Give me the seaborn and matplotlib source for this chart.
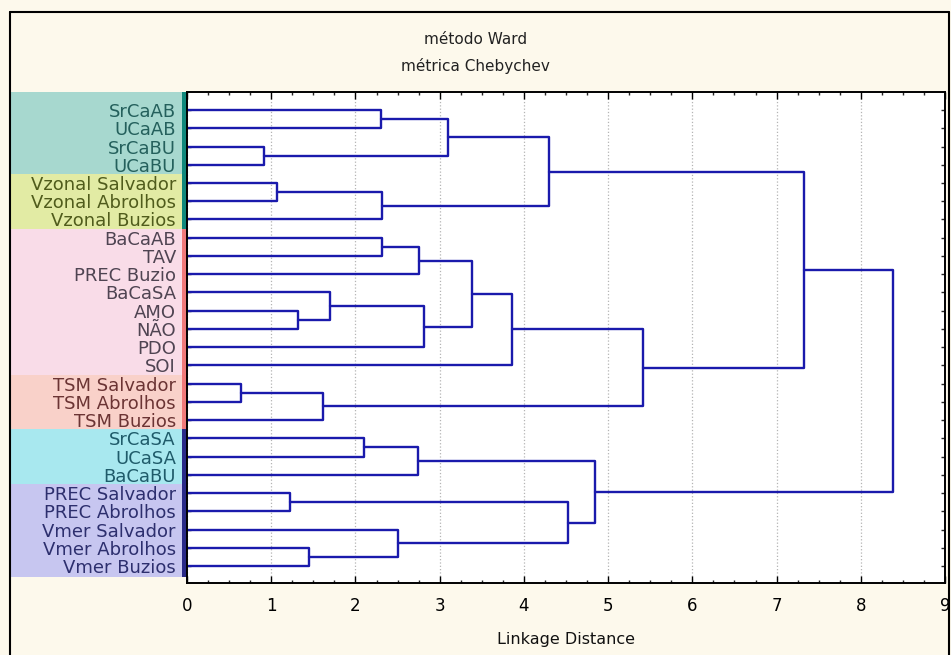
import numpy as np
import pandas as pd
import matplotlib
matplotlib.use('Agg')
import matplotlib.pyplot as plt
import matplotlib.transforms as mtransforms
from matplotlib.patches import Rectangle
from matplotlib.lines import Line2D
from matplotlib.ticker import MultipleLocator
import seaborn as sns

# leaves, top to bottom
labels = ['SrCaAB', 'UCaAB', 'SrCaBU', 'UCaBU',
          'Vzonal Salvador', 'Vzonal Abrolhos', 'Vzonal Buzios',
          'BaCaAB', 'TAV', 'PREC Buzio', 'BaCaSA', 'AMO', 'NÃO', 'PDO', 'SOI',
          'TSM Salvador', 'TSM Abrolhos', 'TSM Buzios',
          'SrCaSA', 'UCaSA', 'BaCaBU',
          'PREC Salvador', 'PREC Abrolhos', 'Vmer Salvador', 'Vmer Abrolhos', 'Vmer Buzios']

# merges (cluster ids: leaves 0..25, new clusters 26..50)
merge_left = [15, 2, 4, 21, 11, 24, 26, 10, 18, 0, 28, 7, 23, 34, 37, 33, 35, 40, 43, 42, 29, 39, 44, 45, 49]
merge_right = [16, 3, 5, 22, 12, 25, 17, 30, 19, 1, 6, 8, 31, 20, 9, 13, 27, 41, 14, 36, 38, 46, 32, 48, 47]
merge_height = [0.64, 0.92, 1.07, 1.22, 1.32, 1.45, 1.62, 1.70, 2.10, 2.30, 2.32, 2.32, 2.50,
                2.74, 2.76, 2.81, 3.10, 3.38, 3.86, 4.30, 4.52, 4.85, 5.42, 7.33, 8.38]

x_ticks = [0, 1, 2, 3, 4, 5, 6, 7, 8, 9]

# label groups (first row, last row)
group_first = [0, 4, 7, 15, 18, 21]
group_last = [3, 6, 14, 17, 20, 25]
band_colors = ['#a7d8cf', '#e2eba4', '#f9dce8', '#f9d1c9', '#a8e8ef', '#c7c6f0']
text_colors = ['#24605c', '#505c1c', '#4f4452', '#6b3434', '#1f5b6a', '#2d2f6e']
strip_colors = ['#10887c', '#10887c', '#f07a7a', '#f07a7a', '#2a2a88', '#2a2a88']

# build the dendrogram segments
pos = {i: float(i) for i in range(len(labels))}
hgt = {i: 0.0 for i in range(len(labels))}
rows = []
for k, (a, b, h) in enumerate(zip(merge_left, merge_right, merge_height)):
    cid = len(labels) + k
    pts = [(hgt[a], pos[a]), (h, pos[a]), (h, pos[b]), (hgt[b], pos[b])]
    for j, (x, y) in enumerate(pts):
        rows.append({'x': x, 'y': y, 'seg': k, 'order': j})
    pos[cid] = (pos[a] + pos[b]) / 2
    hgt[cid] = h
df = pd.DataFrame(rows)

sns.set_style('white')
plt.rcParams['font.family'] = ['DejaVu Sans']

fig = plt.figure(figsize=(9.51, 6.55), dpi=100, facecolor='#fdf9ec')
ax = fig.add_axes([187 / 951, 1 - 583 / 655, 758 / 951, 491 / 655])
ax.set_facecolor('white')

sns.lineplot(data=df, x='x', y='y', units='seg', estimator=None, sort=False,
             color='#1a1aac', linewidth=1.7, ax=ax, legend=False)

ax.set_xlim(0, 9)
ax.set_ylim(25.93, -0.99)
ax.set_xticks(x_ticks)
ax.set_xticklabels([str(v) for v in x_ticks])
ax.xaxis.set_minor_locator(MultipleLocator(0.25))
ax.set_yticks(range(len(labels)))
ax.set_yticklabels(labels)
ax.grid(axis='x', which='major', linestyle=':', color='#b4b4b4', linewidth=0.9)
ax.set_axisbelow(True)

for s in ax.spines.values():
    s.set_visible(True)
    s.set_color('black')
    s.set_linewidth(1.4)

ax.tick_params(axis='x', which='major', direction='in', top=True, bottom=True,
               length=5, width=1, labelsize=12, pad=10, colors='black')
ax.tick_params(axis='x', which='minor', direction='in', top=True, bottom=True,
               length=2.5, width=1)
ax.tick_params(axis='y', which='major', direction='in', left=True, right=True,
               length=3, width=1, labelsize=13, pad=8)

ax.set_xlabel('Linkage Distance', fontsize=11.5, labelpad=12, color='#111111')
ax.set_ylabel('')

# coloured bands behind the labels
trans = mtransforms.blended_transform_factory(ax.transAxes, ax.transData)
x0 = (10 - 187) / 758
xs = -5 / 758
for g, (f, l) in enumerate(zip(group_first, group_last)):
    top = f - 0.5 if f > 0 else -0.99
    bot = l + 0.5 if l < len(labels) - 1 else 25.6
    ax.add_patch(Rectangle((x0, top), -x0, bot - top, transform=trans,
                           facecolor=band_colors[g], edgecolor='none', clip_on=False, zorder=-5))
    ax.add_patch(Rectangle((xs, top), -xs, bot - top, transform=trans,
                           facecolor=strip_colors[g], edgecolor='none', clip_on=False, zorder=-4))
    for r in range(f, l + 1):
        ax.get_yticklabels()[r].set_color(text_colors[g])

# title
fig.text(0.5, 1 - 39 / 655, 'método Ward', ha='center', va='center', fontsize=11, color='#222222')
fig.text(0.5, 1 - 66 / 655, 'métrica Chebychev', ha='center', va='center', fontsize=11, color='#222222')

# outer frame
fx0, fx1, fy1 = 10 / 951, 949 / 951, 1 - 12 / 655
for xa, ya in [([fx0, fx0], [0, fy1]), ([fx0, fx1], [fy1, fy1]), ([fx1, fx1], [fy1, 0])]:
    fig.add_artist(Line2D(xa, ya, color='black', linewidth=1.5))

fig.savefig('out.png', dpi=100, facecolor=fig.get_facecolor())
